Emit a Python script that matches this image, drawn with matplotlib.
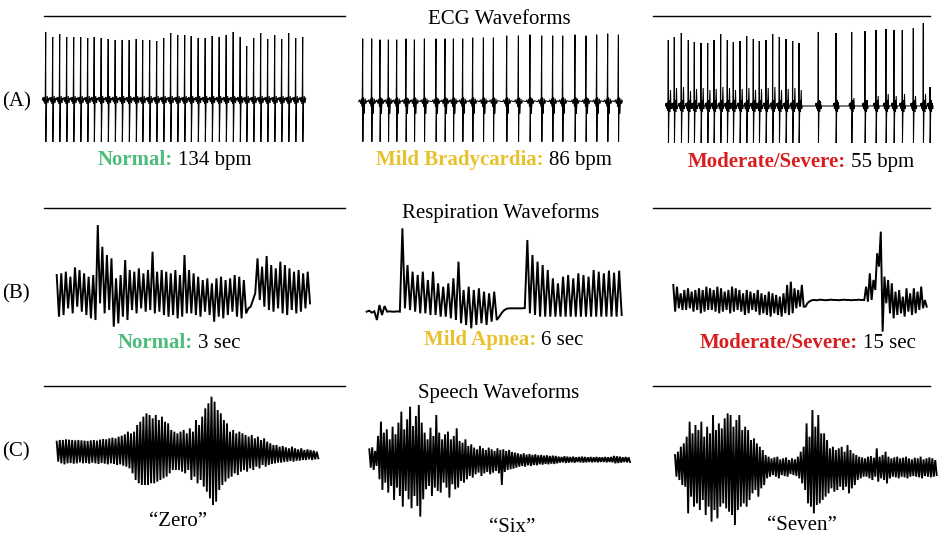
import matplotlib
matplotlib.use('Agg')
import matplotlib.pyplot as plt

plt.rcParams['font.family'] = ['Liberation Serif', 'DejaVu Serif']

# ---------------- data ----------------
# ECG: beat times (samples) and R-peak heights, S depth
ecg_normal_t = [0, 7, 14, 21, 28, 35, 42, 48.5, 55.5, 62.5, 69.5, 76.5, 83.5, 90.5, 97, 104,
                111, 118, 125, 132, 139, 145.5, 152.5, 159.5, 166.5, 173.5, 180.5, 187.5,
                194.5, 201, 208, 215, 222, 229, 236, 243, 250, 257]
ecg_normal_r = [68, 63, 66, 63, 63, 63, 62, 63, 62, 61, 60, 60, 60, 61, 60, 60, 59, 62, 67,
                65, 65, 64, 62, 62, 64, 63, 65, 68, 63, 54, 62, 67, 61, 65, 61, 67, 62, 63]
ecg_normal_s = 42

ecg_mild_t = [0, 9, 17.3, 25.7, 34, 43.3, 51.7, 61.7, 73.3, 82.3, 90.7, 100, 110, 120.7,
              130.7, 144, 155.7, 167.3, 179, 190, 200, 212.3, 223.3, 234, 245, 255.7]
ecg_mild_r = [63, 63, 62, 62, 62, 63, 62, 63, 63, 63, 63, 63, 64, 64, 64, 66, 66, 67, 66,
              66, 66, 67, 66, 67, 68, 67]
ecg_mild_s = 40

ecg_severe_t = [0, 6, 13, 20, 26, 32.7, 39.4, 45.7, 52.4, 59, 65, 71.7, 78.4, 85, 91, 97.7,
                104.4, 111, 117.7, 124.4, 130.7, 150, 167.7, 183.4, 196.7, 207.7, 217.7,
                225.7, 234, 245, 255, 261.7]
ecg_severe_r = [66, 69, 73, 66, 64, 63, 63, 66, 72, 66, 64, 65, 70, 67, 65, 66, 72, 69, 67,
                65, 63, 74, 73, 74, 75, 76, 77, 76, 76, 78, 83, 19]
ecg_severe_tw = [16, 18, 19, 15, 17, 18, 16, 17, 19, 18, 16, 17, 18, 16, 17, 18, 19, 16, 17,
                 18, 16, 5, 4, 8, 6, 10, 12, 10, 12, 10, 12, 3]
ecg_severe_s = 37

# Respiration: successive peaks / troughs (amplitude units)
resp_normal = [155, 30, 160, 35, 165, 55, 150, 40, 178, 60, 170, 45, 160, 35, 150, 25, 155, 20,
               305, 70,
               240, 40, 215, 50, 205, 0, 145, 10, 155, 30, 200, 20,
               170, 50, 165, 40, 175, 55, 160, 45, 170, 50, 225, 40, 165, 45, 170, 35,
               165, 30, 160, 35, 170, 25, 155, 30, 215, 40,
               170, 40, 160, 35, 150, 30, 140, 45, 145, 35, 130, 15,
               145, 30, 150, 25, 140, 35, 145, 45, 155, 30, 150, 25, 140, 40,
               55, 60, 80, 100,
               205, 80, 180, 60, 212, 50, 185, 45, 175, 55, 195, 40, 185, 35, 175, 50,
               165, 40, 170, 45, 160, 55, 165, 70]

resp_mild = [55, 58, 52, 56, 30, 75, 45, 72, 55, 56, 55, 55, 56, 55,
             305, 65,
             195, 60, 175, 55, 165, 50, 175, 50, 150, 45, 175, 45, 140, 40, 130, 40, 140, 35,
             155, 30, 205, 20,
             120, 15, 130, 5, 120, 15, 125, 20, 115, 15, 110, 25, 115, 30,
             40, 52, 60, 64, 65, 65, 65, 65, 65, 65, 66,
             270, 50, 225, 45, 205, 40, 195, 40, 180, 40, 155, 40, 140, 40, 160, 40, 165, 40,
             155, 40, 170, 40, 165, 40, 160, 40, 180, 40, 175, 40, 170, 40, 178, 40, 172, 40,
             178, 45]

resp_severe = [145, 65, 140, 75, 120, 70, 130, 70, 135, 75, 125, 65, 130, 70, 135, 60, 130, 65,
               140, 70, 135, 70, 130, 65, 140, 60, 135, 65, 125, 70, 130, 60, 140, 65, 135, 70,
               130, 65, 120, 55, 130, 60, 125, 70, 120, 65, 130, 55, 120, 60, 115, 55, 125, 50,
               120, 60, 115, 55, 110, 50, 120, 60, 145, 55, 155, 60, 135, 75, 130, 80, 145, 80,
               80, 90, 95, 98, 100, 100, 99, 100, 101, 100, 100, 99, 100, 100, 101, 100, 100,
               100, 99, 100, 100, 101, 100, 100, 100, 99, 100, 100, 100, 101, 100, 100,
               100, 140, 95, 180, 100, 160, 130, 240, 200, 305, 5, 170, 90, 160, 60,
               150, 45, 125, 55, 130, 60, 110, 50, 135, 65, 120, 55, 135, 60, 125, 70, 140, 75,
               100, 80]

# Speech: upper / lower amplitude of each cycle
zero_up = [40, 45, 45, 47, 46, 45, 44, 45, 44, 43, 42, 44, 45, 43, 46, 48, 47, 50, 52, 50, 55, 58, 62, 70,
           65, 70, 90, 100, 115, 125, 120, 110, 120, 105, 115, 100, 95, 75, 70,
           65, 70, 75, 65, 80, 70, 105, 90,
           115, 140, 155, 175, 160, 135, 125, 105, 95,
           70, 75, 65, 70, 65, 60, 55, 60, 50, 55, 45, 50,
           40, 35, 30, 30, 25, 27, 23, 20, 25, 20, 17, 20, 15, 17, 15, 13, 10]
zero_dn = [20, 25, 28, 25, 24, 26, 25, 22, 25, 24, 26, 23, 25, 27, 24, 26, 28, 25, 27, 30, 28, 32, 35, 40,
           55, 75, 85, 90, 90, 90, 85, 85, 80, 75, 70, 65, 55, 45, 45,
           45, 50, 55, 45, 75, 65, 85, 75,
           95, 110, 130, 150, 140, 105, 90, 80, 70,
           65, 55, 60, 50, 45, 50, 40, 45, 35, 40, 30, 35,
           30, 27, 25, 23, 23, 21, 20, 18, 20, 17, 17, 15, 15, 13, 15, 13, 10]

six_up = [30, 36, 25,
          70, 113, 80, 90, 60, 98, 75, 110, 143, 90, 120, 158, 100, 130, 163, 110,
          80, 60, 95, 70, 133, 80, 60, 75, 83, 60, 70, 93, 55, 50, 60,
          40, 45, 35, 30, 40, 33, 28, 35, 30, 25, 33, 28, 30, 25, 28, 22,
          20, 18, 15, 18, 14, 16, 13, 15, 12, 13, 11, 12, 10, 11, 10,
          8, 7, 9, 8, 7, 8, 6, 7, 8, 7, 6, 7, 6, 7, 6, 6, 7, 6, 7, 10, 9, 8, 6, 7, 6]
six_dn = [25, 32, 20,
          60, 92, 70, 100, 80, 122, 85, 110, 142, 95, 120, 147, 110, 140, 172, 120,
          90, 80, 110, 85, 95, 100, 70, 85, 115, 75, 90, 85, 65, 70, 60,
          50, 55, 45, 40, 50, 42, 38, 45, 40, 35, 42, 77, 38, 32, 30, 28,
          25, 22, 20, 22, 18, 20, 17, 18, 15, 16, 14, 15, 13, 14, 12,
          10, 9, 11, 10, 9, 10, 8, 9, 10, 9, 8, 9, 8, 9, 8, 8, 9, 8, 9, 12, 11, 10, 8, 9, 8]

seven_up = [35, 45, 60, 70,
            90, 135, 100, 125, 110, 135, 90, 120, 100, 155, 110, 130, 115, 145, 160, 155, 120, 140,
            155, 110, 120, 110,
            80, 85, 70, 60, 50,
            35, 30, 25, 28, 30, 22, 25, 28, 20, 25, 22, 30, 45,
            60, 130, 90, 170, 120, 155, 100, 100, 80,
            55, 60, 50, 55, 60, 45, 65, 50, 40, 35,
            30, 28, 25, 30, 32, 27, 55, 30, 35, 45, 30, 25, 28, 30, 25, 27, 30, 25, 22, 27, 25, 30,
            22, 25, 28, 25, 20]
seven_dn = [30, 40, 55, 60,
            140, 90, 120, 110, 130, 100, 145, 120, 165, 130, 155, 120, 110, 125, 135, 145, 175, 130,
            120, 110, 120, 100,
            80, 70, 90, 65, 55,
            35, 30, 25, 30, 35, 25, 28, 30, 22, 25, 28, 35, 50,
            70, 110, 120, 140, 115, 110, 100, 90, 80,
            65, 75, 70, 60, 70, 60, 80, 65, 55, 40,
            35, 30, 30, 35, 40, 30, 45, 35, 40, 50, 35, 30, 32, 35, 30, 32, 35, 30, 28, 30, 32, 35,
            28, 30, 32, 30, 25]

headers = ['ECG Waveforms', 'Respiration Waveforms', 'Speech Waveforms']
row_tags = ['(A)', '(B)', '(C)']
ecg_labels = [('Normal:', '134 bpm'), ('Mild Bradycardia:', '86 bpm'), ('Moderate/Severe:', '55 bpm')]
resp_labels = [('Normal:', '3 sec'), ('Mild Apnea:', '6 sec'), ('Moderate/Severe:', '15 sec')]
speech_labels = ['\u201cZero\u201d', '\u201cSix\u201d', '\u201cSeven\u201d']

GREEN = '#4dbb7a'
GOLD = '#e8c12e'
RED = '#d81e1e'
sev_colors = [GREEN, GOLD, RED]

# beat shapes (time offset, value); 'R' / 'S' / 'T' are filled per beat
shape_normal = [(-3.4, 0), (-2.6, 3), (-1.9, -2), (-1.2, 3), (-0.5, -4), (0, 'R'), (0.15, 'S'),
                (0.8, -5), (1.5, 4), (2.3, -3), (3.0, 2)]
shape_mild = [(-4, 0), (-3, 2), (-2, -2), (-1.2, 3), (-0.5, -5), (0, 'R'), (0.15, 'S'),
              (0.5, -9), (0.9, 4), (1.3, -12), (1.8, -4), (2.5, 3), (3.2, -2), (4, 1)]
shape_severe = [(-2.8, 0), (-2.2, 3), (-1.5, -3), (-0.8, 4), (-0.3, -5), (0, 'R'), (0.15, 'S'),
                (0.6, -10), (1.0, 6), (1.5, -6), (2.2, 'T'), (2.7, -3), (3.0, 0)]

W, H = 945, 546
fig = plt.figure(figsize=(W / 100, H / 100), dpi=100)
bg = fig.add_axes([0, 0, 1, 1])
bg.set_xlim(0, W)
bg.set_ylim(H, 0)
bg.axis('off')


def ecg_trace(times, r, s_depth, shape, tw=None):
    xs, ys = [], []
    for i, bt in enumerate(times):
        for dx, v in shape:
            if v == 'R':
                y = r[i]
            elif v == 'S':
                y = -s_depth
            elif v == 'T':
                y = tw[i]
            else:
                y = v
            xs.append(bt + dx)
            ys.append(y)
    return xs, ys


def zigzag(up, dn):
    ys = []
    for u, d in zip(up, dn):
        ys.append(u)
        ys.append(-d)
    return ys


def place(xs, ys, px_x0, sx, px_base, sy, lw):
    # data -> pixel: px = px_x0 + x*sx ; py = px_base - y*sy
    x_lo, x_hi = min(xs), max(xs)
    y_lo, y_hi = min(ys), max(ys)
    left = px_x0 + x_lo * sx
    right = px_x0 + x_hi * sx
    top = px_base - y_hi * sy
    bottom = px_base - y_lo * sy
    ax = fig.add_axes([left / W, 1 - bottom / H, (right - left) / W, (bottom - top) / H])
    ax.plot(xs, ys, color='black', lw=lw, clip_on=False, solid_joinstyle='miter')
    ax.set_xlim(x_lo, x_hi)
    ax.set_ylim(y_lo, y_hi)
    ax.axis('off')
    return ax


def indexed(series, px_start, px_end, px_base, sy, lw):
    xs = list(range(len(series)))
    place(xs, series, px_start, (px_end - px_start) / (len(series) - 1), px_base, sy, lw)


# ---- ECG row ----
x, y = ecg_trace(ecg_normal_t, ecg_normal_r, ecg_normal_s, shape_normal)
place(x, y, 45.7, 1.0, 100, 1.0, 0.75)
x, y = ecg_trace(ecg_mild_t, ecg_mild_r, ecg_mild_s, shape_mild)
place(x, y, 362.7, 1.0, 101.7, 1.0, 0.75)
x, y = ecg_trace(ecg_severe_t, ecg_severe_r, ecg_severe_s, shape_severe, ecg_severe_tw)
place(x, y, 668.3, 1.0, 106, 1.0, 0.75)

# ---- respiration row ----
indexed(resp_normal, 56.7, 310, 326.7, 1 / 3, 1.4)
indexed(resp_mild, 366.7, 621.7, 330, 1 / 3, 1.4)
indexed(resp_severe, 673.3, 926.7, 333.3, 1 / 3, 1.4)

# ---- speech row ----
indexed(zigzag(zero_up, zero_dn), 56.7, 318.3, 455, 1 / 3, 1.35)
indexed(zigzag(six_up, six_dn), 369.3, 630, 459.3, 1 / 3, 1.35)
indexed(zigzag(seven_up, seven_dn), 675, 936.7, 466.7, 1 / 3, 1.35)

# ---- headers, rules, tags ----
FS = 15
header_y = [24, 218, 398]
header_x = [499, 501, 498.5]
rule_y = [16, 208.3, 386]
for hx, hy, ry, txt in zip(header_x, header_y, rule_y, headers):
    bg.text(hx, hy, txt, ha='center', va='baseline', fontsize=FS)
    bg.plot([44, 345], [ry, ry], color='black', lw=1.0)
    bg.plot([653, 930], [ry, ry], color='black', lw=1.0)

for ty, tag in zip([106.5, 298, 456.5], row_tags):
    bg.text(2, ty, tag, ha='left', va='baseline', fontsize=FS)

renderer = fig.canvas.get_renderer()


def status_label(cx, yb, bold_txt, color, rest):
    t1 = bg.text(0, yb, bold_txt, color=color, fontweight='bold', fontsize=FS,
                 ha='left', va='baseline')
    t2 = bg.text(0, yb, rest, fontsize=FS, ha='left', va='baseline')
    w1 = t1.get_window_extent(renderer).width
    w2 = t2.get_window_extent(renderer).width
    gap = FS * 100 / 72 * 0.25
    x0 = cx - (w1 + gap + w2) / 2
    t1.set_x(x0)
    t2.set_x(x0 + w1 + gap)


for cx, yb, (b, r), c in zip([174.5, 494, 801], [165, 165, 167], ecg_labels, sev_colors):
    status_label(cx, yb, b, c, r)
for cx, yb, (b, r), c in zip([179, 503.5, 808], [348, 345, 348], resp_labels, sev_colors):
    status_label(cx, yb, b, c, r)
for cx, yb, txt in zip([178, 512, 802], [526, 532, 530], speech_labels):
    bg.text(cx, yb, txt, ha='center', va='baseline', fontsize=FS)

fig.savefig('out.png', dpi=100)
